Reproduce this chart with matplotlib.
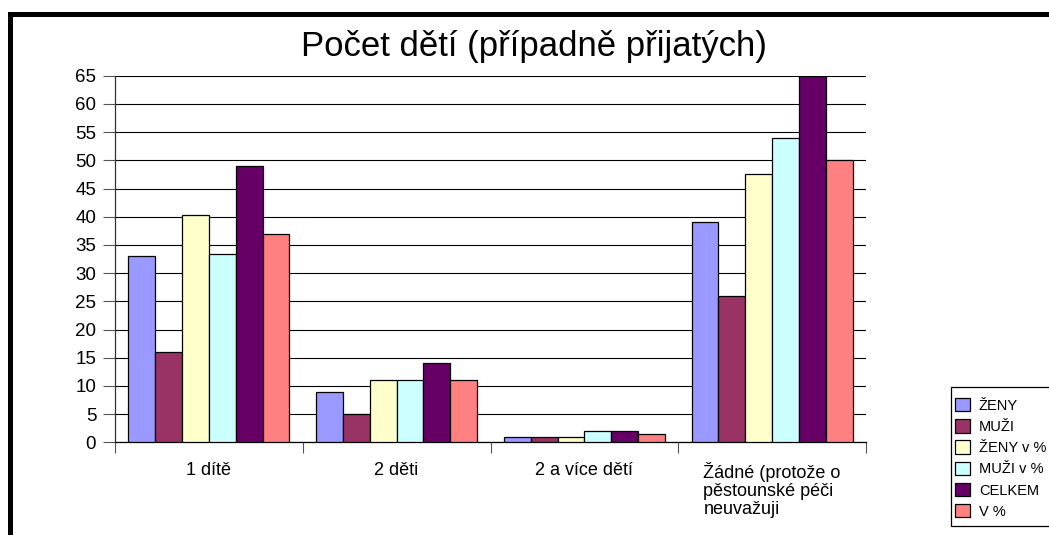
import matplotlib
matplotlib.use("Agg")
import matplotlib.pyplot as plt
from matplotlib.patches import Rectangle
import numpy as np

plt.rcParams['font.family'] = ['Liberation Sans', 'DejaVu Sans']

categories = ["1 dítě", "2 děti", "2 a více dětí", "Žádné (protože o\npěstounské péči\nneuvažuji"]
series_names = ["ŽENY", "MUŽI", "ŽENY v %", "MUŽI v %", "CELKEM", "V %"]
zeny = [33, 9, 1, 39]
muzi = [16, 5, 1, 26]
zeny_pct = [40.3, 11, 1, 47.6]
muzi_pct = [33.3, 11, 2, 54]
celkem = [49, 14, 2, 65]
v_pct = [37, 11, 1.5, 50]
series_values = [zeny, muzi, zeny_pct, muzi_pct, celkem, v_pct]
colors = ["#9999FF", "#993366", "#FFFFCC", "#CCFFFF", "#660066", "#FF8080"]
yticks = list(range(0, 66, 5))

W, H = 1049, 535
fig = plt.figure(figsize=(W / 100, H / 100), dpi=100)
ax = fig.add_axes([115 / W, 1 - 442.3 / H, (866 - 115) / W, (442.3 - 75.7) / H])

bw = 1 / 7
x = np.arange(len(categories))
for i, (name, vals, c) in enumerate(zip(series_names, series_values, colors)):
    ax.bar(x - 3 * bw + (i + 0.5) * bw, vals, width=bw, color=c, edgecolor="black",
           linewidth=0.9, label=name, zorder=3)

ax.set_xlim(-0.5, len(categories) - 0.5)
ax.set_ylim(0, 65)
ax.set_yticks(yticks)
ax.set_yticklabels([str(v) for v in yticks], fontsize=13.5)
ax.yaxis.grid(True, color="black", linewidth=0.8, zorder=0)
ax.set_axisbelow(True)
ax.tick_params(axis="y", direction="out", length=8.5, width=0.8, color="#555555", pad=5)

ax.set_xticks(x)
ax.set_xticklabels(categories, fontsize=13)
ax.tick_params(axis="x", which="major", length=0, pad=14)
for t in ax.get_xticklabels():
    t.set_multialignment("left")
    t.set_linespacing(1.07)
ax.set_xticks(np.arange(-0.5, len(categories) - 0.4, 1), minor=True)
ax.tick_params(axis="x", which="minor", direction="out", length=8, width=0.8, color="#555555")

for s in ["top", "right"]:
    ax.spines[s].set_visible(False)
ax.spines["left"].set_color("#333333")
ax.spines["bottom"].set_color("black")
ax.spines["left"].set_linewidth(0.9)
ax.spines["bottom"].set_linewidth(0.9)

fig.text(534 / W, 1 - 47 / H, "Počet dětí (případně přijatých)", fontsize=25,
         ha="center", va="center")

# legend frame drawn separately (box is cut by the right edge of the image)
fig.patches.append(Rectangle((951 / W, 1 - 526 / H), 120 / W, 139 / H, transform=fig.transFigure,
                             facecolor="white", edgecolor="black", linewidth=0.9))
leg = fig.legend(loc="upper left", bbox_to_anchor=(955 / W, 1 - 398 / H), fontsize=10.5,
                 frameon=False,
                 handlelength=1.03, handleheight=1.03, handletextpad=0.6,
                 labelspacing=0.45, borderpad=0, borderaxespad=0)

# outer black border (top and left)
fig.patches.append(Rectangle((8 / W, 1 - 17 / H), 1, 5 / H, transform=fig.transFigure,
                             facecolor="black", edgecolor="none"))
fig.patches.append(Rectangle((8 / W, 0), 5 / W, 1 - 12 / H, transform=fig.transFigure,
                             facecolor="black", edgecolor="none"))

fig.savefig("out.png", dpi=100)
